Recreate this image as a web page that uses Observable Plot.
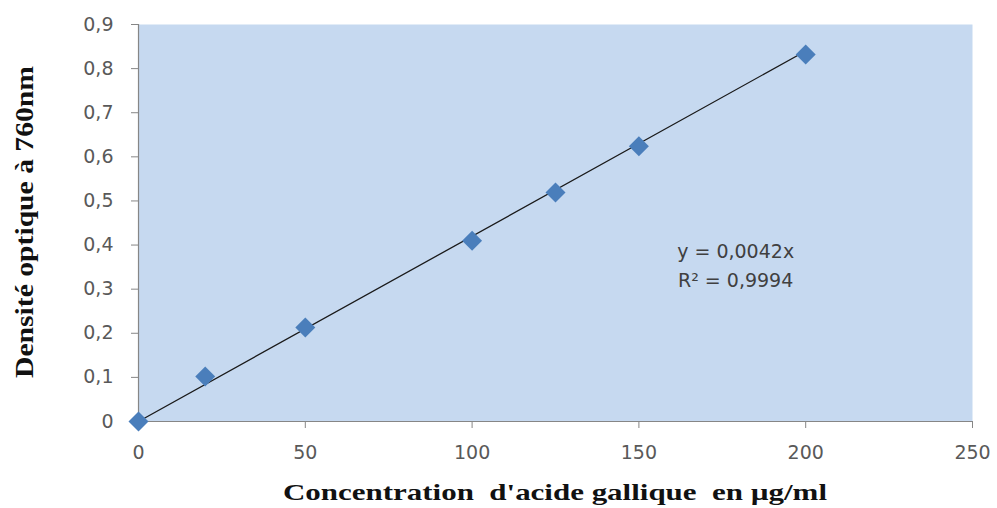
<!DOCTYPE html>
<html>
<head>
<meta charset="utf-8">
<script src="https://cdn.jsdelivr.net/npm/d3@7"></script>
<script src="https://cdn.jsdelivr.net/npm/@observablehq/plot@0.6"></script>
<style>
  html, body { margin: 0; padding: 0; background: #ffffff; }
  #chart svg { display: block; }
</style>
</head>
<body>
<div id="chart"></div>
<script>
// Data
const concentrations = [0, 20, 50, 100, 125, 150, 200];
const absorbances = [0, 0.102, 0.213, 0.41, 0.519, 0.624, 0.832];
const trendX = [0, 200];
const trendY = [0, 0.84];
const xTicks = [0, 50, 100, 150, 200, 250];
const yTicks = [0, 0.1, 0.2, 0.3, 0.4, 0.5, 0.6, 0.7, 0.8, 0.9];
const equationLines = ["y = 0,0042x", "R² = 0,9994"];
const xTitle = "Concentration  d'acide gallique  en µg/ml";
const yTitle = "Densité optique à 760nm";

const points = concentrations.map((c, i) => ({x: c, y: absorbances[i]}));
const trend = trendX.map((c, i) => ({x: c, y: trendY[i]}));
const fmtY = d => d === 0 ? "0" : d.toFixed(1).replace(".", ",");

const W = 997, H = 508;
const axisColor = "#868686";
const tickFont = "DejaVu Sans, sans-serif";

const plot = Plot.plot({
  width: W,
  height: H,
  marginLeft: 138,
  marginRight: 25,
  marginTop: 24,
  marginBottom: 87,
  style: {background: "#ffffff", fontFamily: tickFont},
  x: {domain: [0, 250]},
  y: {domain: [0, 0.9]},
  marks: [
    Plot.frame({fill: "#c6d9f0", stroke: "none"}),
    Plot.axisX({ticks: xTicks, tickSize: 7, tickPadding: 17, stroke: axisColor, strokeOpacity: 1,
      fill: "#595959", fontSize: 19, label: null, tickFormat: d => String(d)}),
    Plot.axisY({ticks: yTicks, tickSize: 7, tickPadding: 18, stroke: axisColor, strokeOpacity: 1,
      fill: "#595959", fontSize: 19, label: null, tickFormat: fmtY}),
    Plot.ruleX([0], {stroke: axisColor, strokeWidth: 1.2}),
    Plot.ruleY([0], {stroke: axisColor, strokeWidth: 1.2}),
    Plot.line(trend, {x: "x", y: "y", stroke: "#1a1a1a", strokeWidth: 1.3}),
    Plot.dot(points, {x: "x", y: "y", symbol: "diamond2", r: 9, fill: "#4a7ebb", stroke: "none"}),
    Plot.text([equationLines.join("\n")], {x: 179, y: 0.359, text: d => d, fontSize: 19,
      fill: "#404040", lineHeight: 1.53, fontFamily: tickFont})
  ]
});

document.getElementById("chart").appendChild(plot);

// Axis titles (bold serif)
const svg = d3.select(plot);
svg.append("text")
  .attr("x", 555).attr("y", 500)
  .attr("text-anchor", "middle")
  .attr("font-family", "Liberation Serif, Times New Roman, serif")
  .attr("font-weight", "bold")
  .attr("font-size", 24)
  .attr("fill", "#111")
  .attr("textLength", 544)
  .attr("lengthAdjust", "spacingAndGlyphs")
  .style("white-space", "pre")
  .text(xTitle);
svg.append("text")
  .attr("transform", "translate(33,222) rotate(-90)")
  .attr("text-anchor", "middle")
  .attr("font-family", "Liberation Serif, Times New Roman, serif")
  .attr("font-weight", "bold")
  .attr("font-size", 25)
  .attr("fill", "#111")
  .attr("textLength", 312)
  .attr("lengthAdjust", "spacingAndGlyphs")
  .text(yTitle);
</script>
</body>
</html>
